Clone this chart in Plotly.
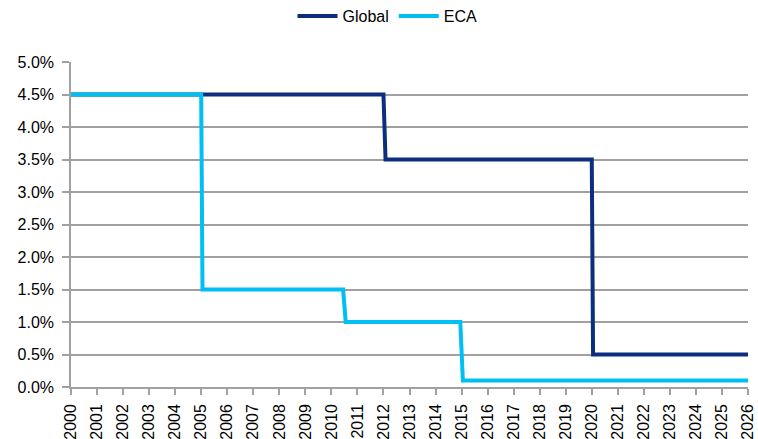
import plotly.graph_objects as go

# Rate schedules (percent), step changes by year
global_years = [2000, 2012, 2012.08, 2020, 2020.05, 2026]
global_rate = [4.5, 4.5, 3.5, 3.5, 0.5, 0.5]

eca_years = [2000, 2005, 2005.05, 2010.45, 2010.55, 2014.95, 2015.05, 2026]
eca_rate = [4.5, 4.5, 1.5, 1.5, 1.0, 1.0, 0.1, 0.1]

year_ticks = list(range(2000, 2027))
pct_ticks = [i * 0.5 for i in range(11)]

FONT = "Liberation Sans, Arial, sans-serif"
GRID = "#a0a0a0"

fig = go.Figure()
fig.add_trace(go.Scatter(x=global_years, y=global_rate, mode="lines", name="Global",
                         line=dict(color="#0b2f7c", width=4)))
fig.add_trace(go.Scatter(x=eca_years, y=eca_rate, mode="lines", name="ECA",
                         line=dict(color="#00bff2", width=4)))

fig.update_layout(
    width=758, height=439,
    margin=dict(l=71, r=10, t=62, b=52, autoexpand=False),
    paper_bgcolor="white", plot_bgcolor="white",
    font=dict(family=FONT, size=15, color="#000000"),
    showlegend=True,
    legend=dict(orientation="h", x=0.4675, xanchor="center", y=1.1415, yanchor="middle",
                font=dict(family=FONT, size=16), itemwidth=40, bgcolor="rgba(0,0,0,0)"),
    xaxis=dict(range=[2000, 2026], tickvals=year_ticks, ticktext=[str(y) for y in year_ticks],
               tickangle=-90, showgrid=False, zeroline=False, automargin=False,
               showline=True, linecolor=GRID, linewidth=1.5,
               ticks="outside", ticklen=6, tickcolor=GRID, tickwidth=1.5,
               ticklabelstandoff=3,
               tickfont=dict(family=FONT, size=16)),
    yaxis=dict(range=[0, 5], tickvals=pct_ticks, ticktext=[f"{v:.1f}%" for v in pct_ticks],
               showgrid=True, gridcolor=GRID, gridwidth=1.5, zeroline=False, automargin=False,
               showline=True, linecolor=GRID, linewidth=1.5,
               ticks="outside", ticklen=7, tickcolor=GRID, tickwidth=1.5,
               ticklabelstandoff=5,
               tickfont=dict(family=FONT, size=16)),
)

fig.write_html("out.html")
